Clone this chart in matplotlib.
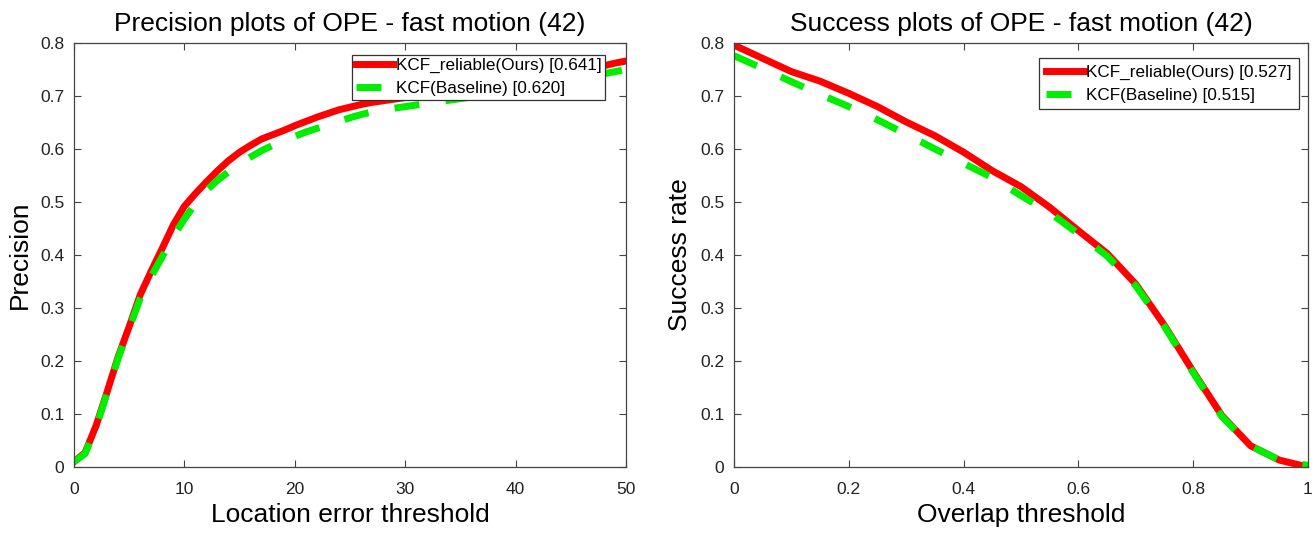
import numpy as np
import matplotlib
matplotlib.use("Agg")
import matplotlib.pyplot as plt

plt.rcParams['font.family'] = ['Liberation Sans', 'DejaVu Sans']

# precision plot (location error threshold 0..50)
prec_thr = list(range(51))
prec_ours = [0.010, 0.027, 0.078, 0.142, 0.208, 0.265, 0.325, 0.370, 0.413, 0.457,
             0.492, 0.516, 0.538, 0.559, 0.578, 0.594, 0.607, 0.619, 0.627, 0.635,
             0.644, 0.652, 0.660, 0.667, 0.674, 0.679, 0.684, 0.688, 0.691, 0.694,
             0.697, 0.700, 0.703, 0.706, 0.709, 0.712, 0.715, 0.718, 0.721, 0.724,
             0.727, 0.730, 0.733, 0.737, 0.740, 0.744, 0.748, 0.752, 0.757, 0.762,
             0.766]
prec_base = [0.010, 0.025, 0.075, 0.140, 0.205, 0.262, 0.318, 0.360, 0.397, 0.435,
             0.468, 0.497, 0.522, 0.541, 0.557, 0.572, 0.585, 0.597, 0.607, 0.616,
             0.624, 0.632, 0.639, 0.646, 0.652, 0.659, 0.665, 0.670, 0.674, 0.677,
             0.680, 0.683, 0.686, 0.689, 0.692, 0.695, 0.698, 0.701, 0.704, 0.707,
             0.710, 0.713, 0.716, 0.720, 0.724, 0.728, 0.732, 0.737, 0.742, 0.746,
             0.750]

# success plot (overlap threshold 0..1)
succ_thr = [0.00, 0.05, 0.10, 0.15, 0.20, 0.25, 0.30, 0.35, 0.40, 0.45, 0.50,
            0.55, 0.60, 0.65, 0.70, 0.75, 0.80, 0.85, 0.90, 0.95, 1.00]
succ_ours = [0.796, 0.771, 0.746, 0.728, 0.705, 0.680, 0.651, 0.625, 0.594, 0.559,
             0.529, 0.490, 0.446, 0.403, 0.345, 0.267, 0.180, 0.097, 0.040, 0.013, 0.000]
succ_base = [0.776, 0.752, 0.727, 0.703, 0.680, 0.655, 0.628, 0.600, 0.573, 0.546,
             0.512, 0.480, 0.440, 0.398, 0.342, 0.265, 0.178, 0.095, 0.040, 0.013, 0.003]

labels_prec = ["KCF_reliable(Ours) [0.641]", "KCF(Baseline) [0.620]"]
labels_succ = ["KCF_reliable(Ours) [0.527]", "KCF(Baseline) [0.515]"]

fig = plt.figure(figsize=(13.14, 5.33), dpi=100)
ax1 = fig.add_axes([74/1314, 1-467/533, 552/1314, 424/533])
ax2 = fig.add_axes([734/1314, 1-467/533, 574/1314, 424/533])

lw = 5.0
dash = (3.6, 3.8)
frame = '#444444'
big = 19

def style(ax, xticks, xlim):
    ax.set_xlim(*xlim)
    ax.set_ylim(0, 0.8)
    ax.set_xticks(xticks)
    ax.set_yticks(np.arange(0, 0.81, 0.1))
    ax.set_yticklabels(['0', '0.1', '0.2', '0.3', '0.4', '0.5', '0.6', '0.7', '0.8'])
    ax.tick_params(direction='in', length=5, width=0.8, top=True, right=True,
                   labelsize=12.5, colors=frame, labelcolor='#222222')
    ax.tick_params(axis='y', pad=7)
    ax.tick_params(axis='x', pad=11)
    for s in ax.spines.values():
        s.set_color(frame)
        s.set_linewidth(0.9)

def legend(ax, anchor, bpad):
    leg = ax.legend(loc='upper right', bbox_to_anchor=anchor, borderaxespad=0,
                    fontsize=12.3, frameon=True, fancybox=False, handlelength=2.2,
                    handletextpad=0.15, borderpad=bpad, labelspacing=0.45)
    leg.get_frame().set_edgecolor('#333333')
    leg.get_frame().set_linewidth(0.9)
    leg.get_frame().set_alpha(1)

# left: precision
ax1.plot(prec_thr, prec_ours, color='#ff0000', lw=lw, label=labels_prec[0],
         solid_joinstyle='round')
ax1.plot(prec_thr, prec_base, color='#00ee00', lw=lw, label=labels_prec[1],
         dashes=dash, dash_capstyle='butt')
style(ax1, [0, 10, 20, 30, 40, 50], (0, 50))
ax1.set_xticklabels(['0', '10', '20', '30', '40', '50'])
ax1.set_title('Precision plots of OPE - fast motion (42)', fontsize=big, pad=9)
ax1.set_xlabel('Location error threshold', fontsize=big, labelpad=4)
ax1.set_ylabel('Precision', fontsize=big, labelpad=6)
legend(ax1, (0.962, 0.972), 0.2)

# right: success
ax2.plot(succ_thr, succ_ours, color='#ff0000', lw=lw, label=labels_succ[0],
         solid_joinstyle='round')
ax2.plot(succ_thr, succ_base, color='#00ee00', lw=lw, label=labels_succ[1],
         dashes=dash, dash_capstyle='butt')
style(ax2, [0, 0.2, 0.4, 0.6, 0.8, 1.0], (0, 1))
ax2.set_xticklabels(['0', '0.2', '0.4', '0.6', '0.8', '1'])
ax2.set_title('Success plots of OPE - fast motion (42)', fontsize=big, pad=9)
ax2.set_xlabel('Overlap threshold', fontsize=big, labelpad=4)
ax2.set_ylabel('Success rate', fontsize=big, labelpad=6)
legend(ax2, (0.984, 0.965), 0.4)

fig.savefig('out.png', dpi=100)
